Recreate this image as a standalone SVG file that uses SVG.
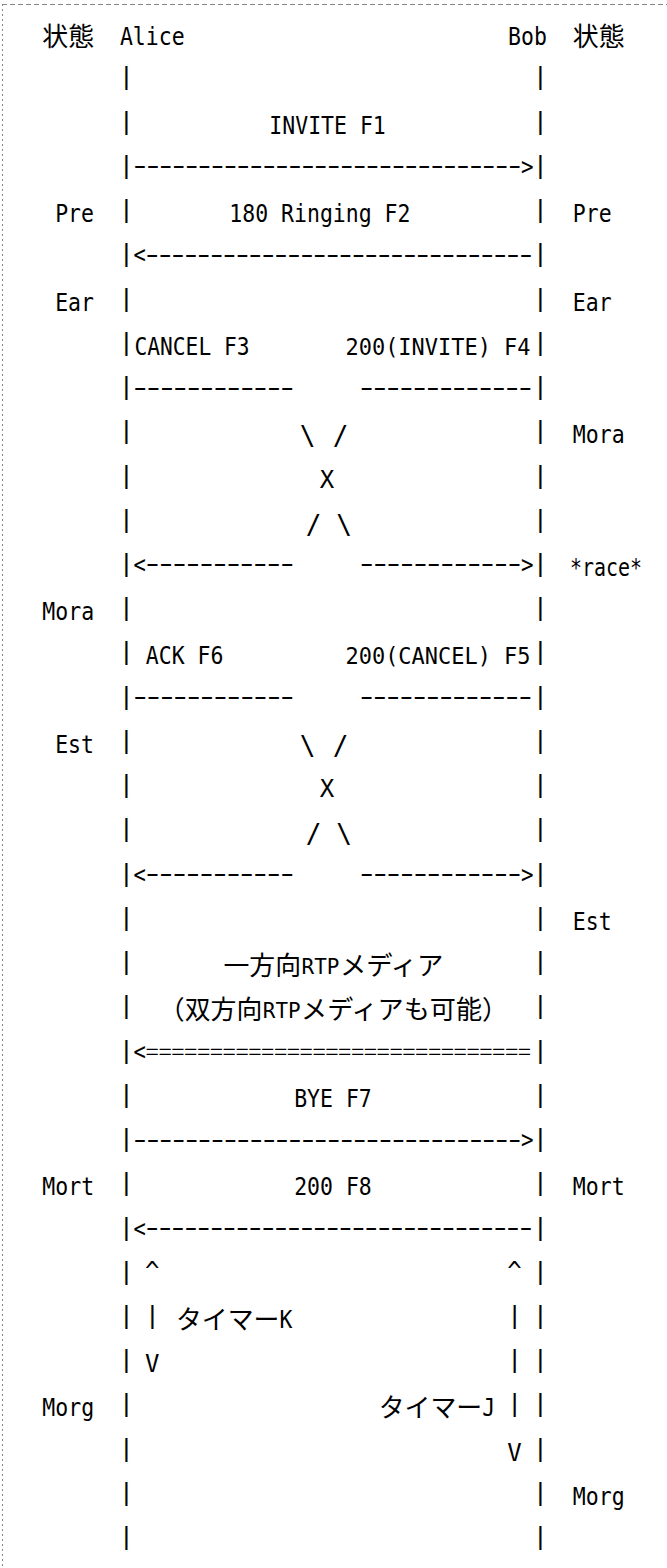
<svg xmlns="http://www.w3.org/2000/svg" width="667" height="1568" viewBox="0 0 667 1568">
<style>
text{fill:#000}
.m{font-family:"DejaVu Sans Mono","Liberation Mono",monospace;font-size:24px}
.n{font-family:"DejaVu Sans Mono","Liberation Mono",monospace;font-size:22.5px}
.r{font-family:"DejaVu Sans Mono","Liberation Mono",monospace;font-size:21px}
.j{font-family:"Noto Sans CJK JP","Noto Sans CJK SC",sans-serif;font-size:26px}
.d{font-family:"Noto Sans CJK JP","Noto Sans CJK SC",sans-serif;font-size:30px}
.e{font-family:"Noto Sans CJK JP","Noto Sans CJK SC",sans-serif;font-size:20px}
.p{font-family:"Liberation Sans",Arial,sans-serif;font-size:26px;text-anchor:middle}
.s{font-family:"DejaVu Sans Mono","Liberation Mono",monospace;font-size:26px;text-anchor:middle}
.c{text-anchor:middle}
.fr{stroke:#888;stroke-width:1;fill:none}
</style>
<rect width="667" height="1568" fill="#fff"/>
<g id="frame">
<line class="fr" x1="2" y1="4.5" x2="667" y2="4.5" stroke-dasharray="5 3"/>
<line class="fr" x1="2.5" y1="4" x2="2.5" y2="1568" stroke-dasharray="2 3"/>
</g>
<g id="header">
<text class="j" x="42.3" y="46.1" textLength="51.8" lengthAdjust="spacingAndGlyphs">状態</text>
<text class="m" x="119.9" y="45.1" textLength="64.7" lengthAdjust="spacingAndGlyphs">Alice</text>
<text class="m" x="508.1" y="45.1" textLength="38.8" lengthAdjust="spacingAndGlyphs">Bob</text>
<text class="j" x="572.8" y="46.1" textLength="51.8" lengthAdjust="spacingAndGlyphs">状態</text>
</g>
<g id="alice-lifeline">
<text class="p"><tspan x="126.4" y="85.3">|</tspan><tspan x="126.4" y="129.6">|</tspan><tspan x="126.4" y="173.8">|</tspan><tspan x="126.4" y="218.0">|</tspan><tspan x="126.4" y="262.3">|</tspan><tspan x="126.4" y="306.5">|</tspan><tspan x="126.4" y="350.7">|</tspan><tspan x="126.4" y="395.0">|</tspan><tspan x="126.4" y="439.2">|</tspan><tspan x="126.4" y="483.5">|</tspan><tspan x="126.4" y="527.7">|</tspan><tspan x="126.4" y="571.9">|</tspan><tspan x="126.4" y="616.2">|</tspan><tspan x="126.4" y="660.4">|</tspan><tspan x="126.4" y="704.6">|</tspan><tspan x="126.4" y="748.9">|</tspan><tspan x="126.4" y="793.1">|</tspan><tspan x="126.4" y="837.3">|</tspan><tspan x="126.4" y="881.6">|</tspan><tspan x="126.4" y="925.8">|</tspan><tspan x="126.4" y="970.0">|</tspan><tspan x="126.4" y="1014.3">|</tspan><tspan x="126.4" y="1058.5">|</tspan><tspan x="126.4" y="1102.7">|</tspan><tspan x="126.4" y="1147.0">|</tspan><tspan x="126.4" y="1191.2">|</tspan><tspan x="126.4" y="1235.5">|</tspan><tspan x="126.4" y="1279.7">|</tspan><tspan x="126.4" y="1323.9">|</tspan><tspan x="126.4" y="1368.2">|</tspan><tspan x="126.4" y="1412.4">|</tspan><tspan x="126.4" y="1456.6">|</tspan><tspan x="126.4" y="1500.9">|</tspan><tspan x="126.4" y="1545.1">|</tspan></text>
</g>
<g id="bob-lifeline">
<text class="p"><tspan x="540.5" y="85.3">|</tspan><tspan x="540.5" y="129.6">|</tspan><tspan x="540.5" y="173.8">|</tspan><tspan x="540.5" y="218.0">|</tspan><tspan x="540.5" y="262.3">|</tspan><tspan x="540.5" y="306.5">|</tspan><tspan x="540.5" y="350.7">|</tspan><tspan x="540.5" y="395.0">|</tspan><tspan x="540.5" y="439.2">|</tspan><tspan x="540.5" y="483.5">|</tspan><tspan x="540.5" y="527.7">|</tspan><tspan x="540.5" y="571.9">|</tspan><tspan x="540.5" y="616.2">|</tspan><tspan x="540.5" y="660.4">|</tspan><tspan x="540.5" y="704.6">|</tspan><tspan x="540.5" y="748.9">|</tspan><tspan x="540.5" y="793.1">|</tspan><tspan x="540.5" y="837.3">|</tspan><tspan x="540.5" y="881.6">|</tspan><tspan x="540.5" y="925.8">|</tspan><tspan x="540.5" y="970.0">|</tspan><tspan x="540.5" y="1014.3">|</tspan><tspan x="540.5" y="1058.5">|</tspan><tspan x="540.5" y="1102.7">|</tspan><tspan x="540.5" y="1147.0">|</tspan><tspan x="540.5" y="1191.2">|</tspan><tspan x="540.5" y="1235.5">|</tspan><tspan x="540.5" y="1279.7">|</tspan><tspan x="540.5" y="1323.9">|</tspan><tspan x="540.5" y="1368.2">|</tspan><tspan x="540.5" y="1412.4">|</tspan><tspan x="540.5" y="1456.6">|</tspan><tspan x="540.5" y="1500.9">|</tspan><tspan x="540.5" y="1545.1">|</tspan></text>
</g>
<g id="alice-states">
<text class="m" x="55.2" y="222.0" textLength="38.8" lengthAdjust="spacingAndGlyphs">Pre</text>
<text class="m" x="55.2" y="310.5" textLength="38.8" lengthAdjust="spacingAndGlyphs">Ear</text>
<text class="m" x="42.3" y="620.2" textLength="51.8" lengthAdjust="spacingAndGlyphs">Mora</text>
<text class="m" x="55.2" y="752.9" textLength="38.8" lengthAdjust="spacingAndGlyphs">Est</text>
<text class="m" x="42.3" y="1195.2" textLength="51.8" lengthAdjust="spacingAndGlyphs">Mort</text>
<text class="m" x="42.3" y="1416.4" textLength="51.8" lengthAdjust="spacingAndGlyphs">Morg</text>
</g>
<g id="bob-states">
<text class="m" x="572.8" y="222.0" textLength="38.8" lengthAdjust="spacingAndGlyphs">Pre</text>
<text class="m" x="572.8" y="310.5" textLength="38.8" lengthAdjust="spacingAndGlyphs">Ear</text>
<text class="m" x="572.8" y="443.2" textLength="51.8" lengthAdjust="spacingAndGlyphs">Mora</text>
<text class="m" x="570" y="575.9" textLength="72" lengthAdjust="spacingAndGlyphs">*race*</text>
<text class="m" x="572.8" y="929.8" textLength="38.8" lengthAdjust="spacingAndGlyphs">Est</text>
<text class="m" x="572.8" y="1195.2" textLength="51.8" lengthAdjust="spacingAndGlyphs">Mort</text>
<text class="m" x="572.8" y="1504.9" textLength="51.8" lengthAdjust="spacingAndGlyphs">Morg</text>
</g>
<g id="connectors">
<text class="d" x="133.5" y="175.3" textLength="387.6" lengthAdjust="spacingAndGlyphs">------------------------------</text>
<text class="m" x="521.1" y="174.8" textLength="12.5" lengthAdjust="spacingAndGlyphs">&gt;</text>
<text class="m" x="133.5" y="263.3" textLength="12.3" lengthAdjust="spacingAndGlyphs">&lt;</text>
<text class="d" x="145.8" y="263.8" textLength="386.5" lengthAdjust="spacingAndGlyphs">------------------------------</text>
<text class="d" x="133.5" y="396.5" textLength="160.5" lengthAdjust="spacingAndGlyphs">------------</text>
<text class="d" x="360" y="396.5" textLength="172" lengthAdjust="spacingAndGlyphs">-------------</text>
<text class="s" x="307.5" y="445.2">\</text>
<text class="s" x="340.5" y="445.2">/</text>
<text class="m c" x="327" y="487.5">X</text>
<text class="s" x="313.7" y="533.7">/</text>
<text class="s" x="344" y="533.7">\</text>
<text class="m" x="133.5" y="572.9" textLength="12.3" lengthAdjust="spacingAndGlyphs">&lt;</text>
<text class="d" x="145.8" y="573.4" textLength="148.2" lengthAdjust="spacingAndGlyphs">-----------</text>
<text class="d" x="360" y="573.4" textLength="161.1" lengthAdjust="spacingAndGlyphs">------------</text>
<text class="m" x="521.1" y="572.9" textLength="12.5" lengthAdjust="spacingAndGlyphs">&gt;</text>
<text class="d" x="133.5" y="706.1" textLength="160.5" lengthAdjust="spacingAndGlyphs">------------</text>
<text class="d" x="360" y="706.1" textLength="172" lengthAdjust="spacingAndGlyphs">-------------</text>
<text class="s" x="307.5" y="754.9">\</text>
<text class="s" x="340.5" y="754.9">/</text>
<text class="m c" x="327" y="797.1">X</text>
<text class="s" x="313.7" y="843.3">/</text>
<text class="s" x="344" y="843.3">\</text>
<text class="m" x="133.5" y="882.6" textLength="12.3" lengthAdjust="spacingAndGlyphs">&lt;</text>
<text class="d" x="145.8" y="883.1" textLength="148.2" lengthAdjust="spacingAndGlyphs">-----------</text>
<text class="d" x="360" y="883.1" textLength="161.1" lengthAdjust="spacingAndGlyphs">------------</text>
<text class="m" x="521.1" y="882.6" textLength="12.5" lengthAdjust="spacingAndGlyphs">&gt;</text>
<text class="m" x="133.5" y="1059.5" textLength="12.3" lengthAdjust="spacingAndGlyphs">&lt;</text>
<text class="e" x="145.8" y="1058.5" textLength="385" lengthAdjust="spacingAndGlyphs">==============================</text>
<text class="d" x="133.5" y="1148.5" textLength="387.6" lengthAdjust="spacingAndGlyphs">------------------------------</text>
<text class="m" x="521.1" y="1148.0" textLength="12.5" lengthAdjust="spacingAndGlyphs">&gt;</text>
<text class="m" x="133.5" y="1236.5" textLength="12.3" lengthAdjust="spacingAndGlyphs">&lt;</text>
<text class="d" x="145.8" y="1237.0" textLength="386.5" lengthAdjust="spacingAndGlyphs">------------------------------</text>
</g>
<g id="messages">
<text class="m" x="269.3" y="133.6" textLength="116.5" lengthAdjust="spacingAndGlyphs">INVITE F1</text>
<text class="m" x="229.3" y="222.0" textLength="181.2" lengthAdjust="spacingAndGlyphs">180 Ringing F2</text>
<text class="m" x="134.5" y="354.7" textLength="115" lengthAdjust="spacingAndGlyphs">CANCEL F3</text>
<text class="n" x="345.5" y="354.7" textLength="185" lengthAdjust="spacingAndGlyphs">200(INVITE) F4</text>
<text class="m" x="145.8" y="664.4" textLength="77.6" lengthAdjust="spacingAndGlyphs">ACK F6</text>
<text class="n" x="345.5" y="664.4" textLength="185" lengthAdjust="spacingAndGlyphs">200(CANCEL) F5</text>
<text class="j" x="223.5" y="975.0" textLength="77.6" lengthAdjust="spacingAndGlyphs">一方向</text>
<text class="r" x="301.6" y="974.0" textLength="37.8" lengthAdjust="spacingAndGlyphs">RTP</text>
<text class="j" x="339.9" y="975.0" textLength="103.5" lengthAdjust="spacingAndGlyphs">メディア</text>
<text class="j" x="158.8" y="1019.3" textLength="103.5" lengthAdjust="spacingAndGlyphs">（双方向</text>
<text class="r" x="262.8" y="1018.3" textLength="37.8" lengthAdjust="spacingAndGlyphs">RTP</text>
<text class="j" x="301.1" y="1019.3" textLength="207" lengthAdjust="spacingAndGlyphs">メディアも可能）</text>
<text class="m" x="294.2" y="1106.7" textLength="77.6" lengthAdjust="spacingAndGlyphs">BYE F7</text>
<text class="m" x="294.2" y="1195.2" textLength="77.6" lengthAdjust="spacingAndGlyphs">200 F8</text>
</g>
<g id="timer-k">
<text class="m c" x="152.3" y="1278.7">^</text>
<text class="p" x="152.3" y="1323.9">|</text>
<text class="j" x="176" y="1328.9" textLength="103.5" lengthAdjust="spacingAndGlyphs">タイマー</text>
<text class="m" x="279.5" y="1327.9" textLength="12.9" lengthAdjust="spacingAndGlyphs">K</text>
<text class="m c" x="152.3" y="1372.2">V</text>
</g>
<g id="timer-j">
<text class="m c" x="514.6" y="1278.7">^</text>
<text class="p" x="514.6" y="1323.9">|</text>
<text class="p" x="514.6" y="1368.2">|</text>
<text class="j" x="378.7" y="1417.4" textLength="103.5" lengthAdjust="spacingAndGlyphs">タイマー</text>
<text class="m" x="482.3" y="1416.4" textLength="12.9" lengthAdjust="spacingAndGlyphs">J</text>
<text class="p" x="514.6" y="1412.4">|</text>
<text class="m c" x="514.6" y="1460.6">V</text>
</g>
</svg>
